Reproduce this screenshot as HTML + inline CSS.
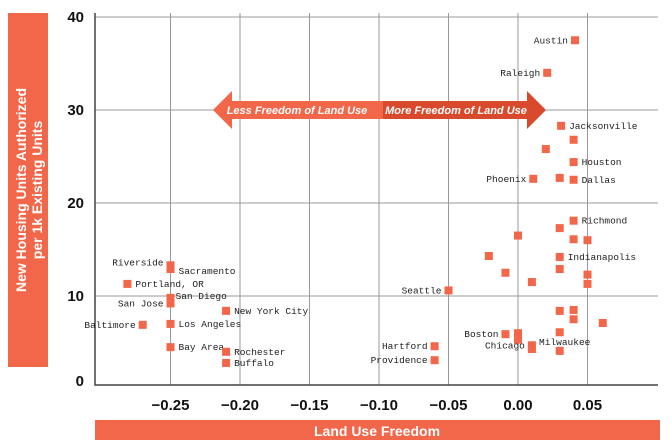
<!DOCTYPE html>
<html><head><meta charset="utf-8"><style>
body{margin:0;background:#fff;}
svg{display:block;}
.tk{font-family:"Liberation Sans",sans-serif;font-size:15px;font-weight:bold;fill:#111;}
.lb{font-family:"Liberation Mono",monospace;font-size:9.5px;fill:#222;}
</style></head><body>
<svg id="c" width="672" height="448" xmlns="http://www.w3.org/2000/svg">
<rect x="8" y="13" width="40" height="354" fill="#f26649"/>
<text transform="translate(33,190) rotate(-90)" text-anchor="middle" font-family="Liberation Sans,sans-serif" font-weight="bold" font-size="14" fill="#fff"><tspan x="0" dy="-7">New Housing Units Authorized</tspan><tspan x="0" dy="16">per 1k Existing Units</tspan></text>
<rect x="95" y="420" width="565" height="20" fill="#f26649"/>
<text x="377" y="436" text-anchor="middle" font-family="Liberation Sans,sans-serif" font-weight="bold" font-size="14" fill="#fff">Land Use Freedom</text>
<g id="grid"></g>
<g id="arrow">
<polygon points="213,110 232,91 232,101 383,101 383,119 232,119 232,129" fill="#f26649"/>
<polygon points="383,101 527,101 527,91 546,110 527,129 527,119 383,119" fill="#d94a2d"/>
<text x="297" y="114" text-anchor="middle" font-family="Liberation Sans,sans-serif" font-style="italic" font-weight="bold" font-size="11" fill="#fff">Less Freedom of Land Use</text>
<text x="456" y="114" text-anchor="middle" font-family="Liberation Sans,sans-serif" font-style="italic" font-weight="bold" font-size="11" fill="#fff">More Freedom of Land Use</text>
</g>
<g id="pts"></g>
</svg>
<script>
const xTicks=[-0.25,-0.20,-0.15,-0.10,-0.05,0.00,0.05];
const xTickLabels=["−0.25","−0.20","−0.15","−0.10","−0.05","0.00","0.05"];
const yTicks=[0,10,20,30,40];
const xVals=[-0.25,-0.25,-0.281,-0.25,-0.25,-0.21,-0.27,-0.25,-0.25,-0.21,-0.21,-0.06,-0.06,-0.05,
0.041,0.021,0.031,0.04,0.02,0.04,0.011,0.03,0.04,0.04,0.03,0.0,0.04,0.05,-0.021,0.03,-0.009,0.03,0.05,0.01,0.05,0.03,0.04,0.04,0.061,0.03,-0.009,0.0,0.0,0.01,0.01,0.03];
const yVals=[13.3,12.9,11.3,9.8,9.2,8.4,6.9,7.0,4.5,4.0,2.8,4.6,3.1,10.6,
37.5,34.0,28.3,26.8,25.8,24.4,22.6,22.7,22.5,18.1,17.3,16.5,16.1,16.0,14.3,14.2,12.5,12.9,12.3,11.5,11.3,8.4,8.5,7.5,7.1,6.1,5.9,6.0,5.3,4.7,4.3,4.1];
const names=["Riverside","Sacramento","Portland, OR","San Diego","San Jose","New York City","Baltimore","Los Angeles","Bay Area","Rochester","Buffalo","Hartford","Providence","Seattle",
"Austin","Raleigh","Jacksonville","","","Houston","Phoenix","","Dallas","Richmond","","","","","","Indianapolis","","","","","","","","","","","Boston","","","Chicago","","Milwaukee"];
const sides=["L","R","R","R","L","R","L","R","R","R","R","L","L","L","L","L","R","","","R","L","","R","R","","","","","","R","","","","","","","","","","","L","","","L","","M"];
const X0=518,XS=1390,Y0=389,YS=9.3,L=95,R=658,T=13,B=385;
const sx=v=>X0+v*XS, sy=v=>Y0-v*YS;
const NS="http://www.w3.org/2000/svg";
const g=document.getElementById('grid'),p=document.getElementById('pts');
function mk(tag,a,par){const e=document.createElementNS(NS,tag);for(const k in a)e.setAttribute(k,a[k]);par.appendChild(e);return e;}
xTicks.forEach((t,i)=>{
 const l=mk('line',{x1:sx(t),x2:sx(t),y1:T,y2:B,stroke:'#999','stroke-width':1},g);
 
 
 const tx=mk('text',{x:sx(t),y:410,'text-anchor':'middle',class:'tk'},g);tx.textContent=xTickLabels[i];
 
 
});
yTicks.forEach(t=>{
 if(t>0){const l=mk('line',{x1:L,x2:R,y1:sy(t),y2:sy(t),stroke:'#999','stroke-width':1},g);
 
 }
 const tx=mk('text',{x:84,y:Math.min(sy(t),381)+5,'text-anchor':'end',class:'tk'},g);tx.textContent=t;
 
 
});
const ax=mk('path',{d:`M${L},${T}V${B}H${R}`,fill:'none',stroke:'#444','stroke-width':1.5},g);


xVals.forEach((v,i)=>{
 const cx=sx(v),cy=sy(yVals[i]);
 const r=mk('rect',{x:cx-4,y:cy-4,width:8,height:8,fill:'#f26649'},p);
 
 
 if(names[i]){
  let a='start',x=cx+8,y=cy+3;
  if(sides[i]==='L'){a='end';x=cx-7;}
  if(sides[i]==='M'){a='middle';x=cx+5;y=cy-6;}
  if(names[i]==='Sacramento')y=cy+5;
  if(names[i]==='Riverside')y=cy;
  if(names[i]==='San Diego'){x=cx+5;y=cy+1;}
  const t=mk('text',{x:x,y:y,'text-anchor':a,class:'lb'},p);t.textContent=names[i];
  
  
 }
});
</script>
</body></html>
